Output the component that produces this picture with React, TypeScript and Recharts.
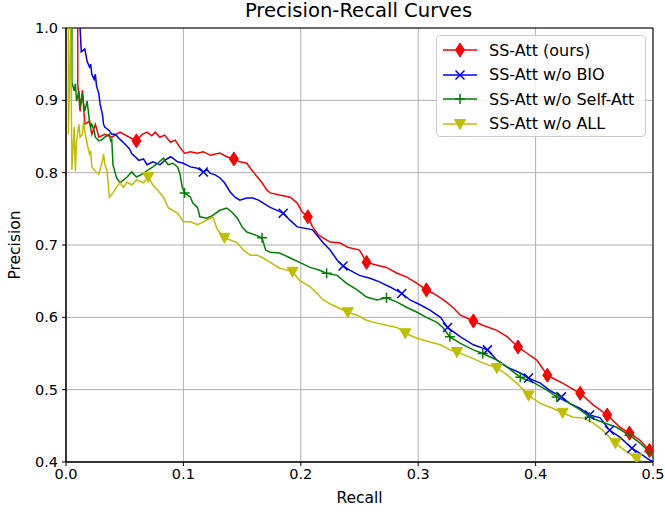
import React from 'react';
import {
  LineChart,
  Line,
  XAxis,
  YAxis,
  CartesianGrid,
  Legend,
  ReferenceArea
} from 'recharts';

const recallTicks = [0, 0.1, 0.2, 0.3, 0.4, 0.5];
const precisionTicks = [0.4, 0.5, 0.6, 0.7, 0.8, 0.9, 1.0];

// SS-Att (ours)
const oursRecall = [
  0.010, 0.010, 0.012, 0.014, 0.016, 0.020, 0.022, 0.025, 0.028, 0.033,
  0.039, 0.046, 0.054, 0.060, 0.065, 0.069, 0.073, 0.076, 0.080, 0.084,
  0.089, 0.093, 0.097, 0.101, 0.106, 0.112, 0.117, 0.123, 0.131, 0.137,
  0.143, 0.148, 0.154, 0.158, 0.163, 0.167, 0.171, 0.174, 0.182, 0.191,
  0.197, 0.201, 0.206, 0.210, 0.215, 0.219, 0.225, 0.233, 0.240, 0.250,
  0.256, 0.265, 0.273, 0.282, 0.290, 0.299, 0.307, 0.313, 0.319, 0.325,
  0.330, 0.336, 0.347, 0.355, 0.367, 0.376, 0.385, 0.393, 0.401, 0.410,
  0.418, 0.423, 0.438, 0.449, 0.461, 0.472, 0.480, 0.489, 0.497, 0.500
];
const oursPrecision = [
  1.000, 0.923, 0.885, 0.914, 0.867, 0.871, 0.853, 0.867, 0.849, 0.853,
  0.849, 0.856, 0.849, 0.844, 0.853, 0.856, 0.851, 0.856, 0.849, 0.852,
  0.842, 0.845, 0.835, 0.827, 0.829, 0.827, 0.829, 0.824, 0.827, 0.822,
  0.819, 0.815, 0.813, 0.804, 0.794, 0.786, 0.776, 0.772, 0.769, 0.766,
  0.758, 0.746, 0.739, 0.725, 0.714, 0.710, 0.704, 0.703, 0.697, 0.693,
  0.676, 0.672, 0.669, 0.661, 0.656, 0.647, 0.638, 0.633, 0.627, 0.620,
  0.613, 0.603, 0.595, 0.589, 0.582, 0.573, 0.559, 0.550, 0.541, 0.520,
  0.513, 0.509, 0.495, 0.479, 0.465, 0.448, 0.440, 0.430, 0.416, 0.414
];
const oursMarks = [13, 30, 42, 50, 56, 62, 66, 69, 72, 74, 76, 78];

// SS-Att w/o BIO
const noBioRecall = [
  0.012, 0.013, 0.016, 0.018, 0.020, 0.021, 0.022, 0.024, 0.025, 0.026,
  0.028, 0.029, 0.031, 0.032, 0.033, 0.037, 0.039, 0.042, 0.046, 0.050,
  0.054, 0.056, 0.059, 0.062, 0.066, 0.069, 0.074, 0.080, 0.084, 0.089,
  0.091, 0.095, 0.100, 0.106, 0.112, 0.117, 0.120, 0.123, 0.127, 0.131,
  0.135, 0.140, 0.144, 0.148, 0.154, 0.159, 0.164, 0.168, 0.174, 0.185,
  0.191, 0.197, 0.204, 0.210, 0.215, 0.219, 0.225, 0.231, 0.236, 0.242,
  0.250, 0.259, 0.267, 0.276, 0.286, 0.293, 0.302, 0.310, 0.319, 0.325,
  0.336, 0.347, 0.359, 0.367, 0.376, 0.387, 0.394, 0.404, 0.412, 0.422,
  0.429, 0.438, 0.446, 0.455, 0.463, 0.472, 0.482, 0.489, 0.495, 0.500
];
const noBioPrecision = [
  1.000, 0.967, 0.971, 0.954, 0.946, 0.950, 0.936, 0.929, 0.936, 0.920,
  0.909, 0.895, 0.881, 0.867, 0.863, 0.858, 0.853, 0.853, 0.846, 0.840,
  0.833, 0.826, 0.822, 0.817, 0.819, 0.811, 0.815, 0.811, 0.817, 0.822,
  0.820, 0.815, 0.813, 0.808, 0.806, 0.801, 0.804, 0.799, 0.797, 0.793,
  0.786, 0.773, 0.766, 0.762, 0.765, 0.765, 0.762, 0.758, 0.752, 0.744,
  0.734, 0.725, 0.723, 0.721, 0.711, 0.703, 0.693, 0.679, 0.671, 0.665,
  0.658, 0.654, 0.649, 0.642, 0.633, 0.624, 0.617, 0.610, 0.600, 0.586,
  0.573, 0.562, 0.555, 0.541, 0.531, 0.523, 0.516, 0.509, 0.499, 0.490,
  0.481, 0.474, 0.465, 0.461, 0.444, 0.434, 0.419, 0.412, 0.405, 0.400
];
const noBioMarks = [35, 49, 58, 64, 69, 72, 76, 79, 82, 84, 86];

// SS-Att w/o Self-Att
const noSelfRecall = [
  0.005, 0.005, 0.007, 0.008, 0.009, 0.011, 0.012, 0.014, 0.015, 0.016,
  0.018, 0.020, 0.021, 0.022, 0.024, 0.025, 0.028, 0.031, 0.033, 0.037,
  0.038, 0.039, 0.040, 0.043, 0.046, 0.052, 0.056, 0.060, 0.066, 0.070,
  0.074, 0.078, 0.083, 0.087, 0.091, 0.095, 0.097, 0.099, 0.101, 0.106,
  0.108, 0.112, 0.114, 0.120, 0.125, 0.131, 0.137, 0.141, 0.146, 0.150,
  0.154, 0.161, 0.167, 0.170, 0.174, 0.182, 0.191, 0.199, 0.208, 0.216,
  0.222, 0.231, 0.239, 0.248, 0.256, 0.265, 0.273, 0.282, 0.290, 0.299,
  0.307, 0.316, 0.321, 0.327, 0.336, 0.347, 0.355, 0.367, 0.376, 0.387,
  0.398, 0.410, 0.418, 0.427, 0.438, 0.446, 0.457, 0.469, 0.480, 0.489,
  0.497, 0.500
];
const noSelfPrecision = [
  1.000, 0.925, 0.913, 0.923, 0.899, 0.913, 0.891, 0.909, 0.895, 0.885,
  0.899, 0.871, 0.863, 0.867, 0.858, 0.849, 0.844, 0.846, 0.849, 0.853,
  0.844, 0.846, 0.811, 0.793, 0.786, 0.794, 0.801, 0.794, 0.799, 0.804,
  0.808, 0.813, 0.820, 0.811, 0.813, 0.808, 0.799, 0.780, 0.772, 0.766,
  0.758, 0.752, 0.739, 0.737, 0.741, 0.748, 0.751, 0.746, 0.737, 0.725,
  0.718, 0.714, 0.710, 0.693, 0.690, 0.689, 0.682, 0.676, 0.669, 0.665,
  0.661, 0.658, 0.647, 0.638, 0.628, 0.624, 0.627, 0.621, 0.614, 0.607,
  0.600, 0.593, 0.586, 0.573, 0.564, 0.555, 0.550, 0.541, 0.531, 0.517,
  0.510, 0.499, 0.490, 0.483, 0.472, 0.462, 0.455, 0.448, 0.437, 0.426,
  0.414, 0.407
];
const noSelfMarks = [38, 52, 60, 66, 73, 76, 79, 82, 85, 88, 90];

// SS-Att w/o ALL
const noAllRecall = [
  0.002, 0.002, 0.004, 0.005, 0.007, 0.008, 0.009, 0.011, 0.012, 0.014,
  0.015, 0.016, 0.018, 0.020, 0.021, 0.022, 0.025, 0.028, 0.031, 0.032,
  0.033, 0.035, 0.037, 0.040, 0.043, 0.046, 0.049, 0.052, 0.056, 0.060,
  0.066, 0.070, 0.074, 0.078, 0.083, 0.087, 0.091, 0.095, 0.100, 0.106,
  0.112, 0.117, 0.123, 0.125, 0.129, 0.135, 0.140, 0.146, 0.151, 0.157,
  0.163, 0.168, 0.174, 0.182, 0.193, 0.199, 0.208, 0.214, 0.219, 0.227,
  0.240, 0.248, 0.256, 0.265, 0.273, 0.282, 0.289, 0.299, 0.310, 0.319,
  0.327, 0.333, 0.344, 0.355, 0.367, 0.376, 0.384, 0.394, 0.404, 0.415,
  0.423, 0.432, 0.440, 0.449, 0.457, 0.468, 0.476, 0.486, 0.491
];
const noAllPrecision = [
  1.000, 0.853, 1.000, 0.804, 0.863, 0.802, 0.844, 0.867, 0.849, 0.853,
  0.871, 0.858, 0.840, 0.826, 0.830, 0.808, 0.802, 0.798, 0.816, 0.826,
  0.812, 0.802, 0.766, 0.772, 0.780, 0.786, 0.780, 0.787, 0.783, 0.790,
  0.786, 0.794, 0.783, 0.776, 0.766, 0.752, 0.748, 0.744, 0.732, 0.732,
  0.728, 0.732, 0.737, 0.739, 0.721, 0.710, 0.707, 0.703, 0.693, 0.686,
  0.686, 0.682, 0.676, 0.668, 0.663, 0.651, 0.642, 0.633, 0.624, 0.617,
  0.607, 0.603, 0.596, 0.592, 0.589, 0.586, 0.578, 0.571, 0.566, 0.562,
  0.555, 0.552, 0.545, 0.537, 0.530, 0.520, 0.509, 0.492, 0.481, 0.474,
  0.468, 0.462, 0.461, 0.454, 0.444, 0.426, 0.416, 0.405, 0.400
];
const noAllMarks = [31, 45, 54, 60, 66, 71, 74, 77, 80, 85, 87];

type Shape = 'diamond' | 'x' | 'plus' | 'tri';

const toPoints = (rs: number[], ps: number[]) =>
  rs.map((r, i) => ({ r, p: ps[i] }));

const series = [
  { name: 'SS-Att (ours)', color: '#ff0000', shape: 'diamond' as Shape, data: toPoints(oursRecall, oursPrecision), marks: oursMarks },
  { name: 'SS-Att w/o BIO', color: '#0000ff', shape: 'x' as Shape, data: toPoints(noBioRecall, noBioPrecision), marks: noBioMarks },
  { name: 'SS-Att w/o Self-Att', color: '#008000', shape: 'plus' as Shape, data: toPoints(noSelfRecall, noSelfPrecision), marks: noSelfMarks },
  { name: 'SS-Att w/o ALL', color: '#bfbf00', shape: 'tri' as Shape, data: toPoints(noAllRecall, noAllPrecision), marks: noAllMarks },
];

const FONT = '"DejaVu Sans", sans-serif';

const MarkerShape = ({ shape, color, cx, cy }: { shape: Shape; color: string; cx: number; cy: number }) => {
  if (shape === 'diamond') {
    return (
      <polygon
        points={`${cx},${cy - 7} ${cx + 4.5},${cy} ${cx},${cy + 7} ${cx - 4.5},${cy}`}
        fill={color}
        stroke={color}
        strokeWidth={1}
      />
    );
  }
  if (shape === 'x') {
    const d = 4.5;
    return (
      <path
        d={`M${cx - d},${cy - d}L${cx + d},${cy + d}M${cx - d},${cy + d}L${cx + d},${cy - d}`}
        stroke={color}
        strokeWidth={1.5}
        fill="none"
      />
    );
  }
  if (shape === 'plus') {
    const d = 5;
    return (
      <path
        d={`M${cx - d},${cy}L${cx + d},${cy}M${cx},${cy - d}L${cx},${cy + d}`}
        stroke={color}
        strokeWidth={1.5}
        fill="none"
      />
    );
  }
  return (
    <polygon
      points={`${cx - 5.5},${cy - 4.5} ${cx + 5.5},${cy - 4.5} ${cx},${cy + 5.5}`}
      fill={color}
      stroke={color}
      strokeWidth={1}
    />
  );
};

const makeDot = (s: typeof series[number]) => (props: any) => {
  const { cx, cy, index } = props;
  const key = `${s.name}-${index}`;
  if (!s.marks.includes(index) || cx == null || cy == null) return <g key={key} />;
  return (
    <g key={key}>
      <MarkerShape shape={s.shape} color={s.color} cx={cx} cy={cy} />
    </g>
  );
};

const renderLegend = () => (
  <div
    style={{
      width: 210,
      height: 102,
      boxSizing: 'border-box',
      border: '1px solid #cccccc',
      borderRadius: 4,
      background: 'rgba(255,255,255,0.8)',
      paddingTop: 2,
      fontFamily: FONT,
      fontSize: 16,
      color: '#000'
    }}
  >
    {series.map((s) => (
      <div key={s.name} style={{ display: 'flex', alignItems: 'center', height: 24.5 }}>
        <svg width={52} height={20} style={{ flexShrink: 0 }}>
          <line x1={6} x2={40} y1={10} y2={10} stroke={s.color} strokeWidth={1.5} />
          <MarkerShape shape={s.shape} color={s.color} cx={23} cy={10} />
        </svg>
        <span style={{ whiteSpace: 'nowrap' }}>{s.name}</span>
      </div>
    ))}
  </div>
);

const tickStyle = { fontFamily: FONT, fontSize: 14.5, fill: '#000' };

const App: React.FC = () => {
  return (
    <div style={{ position: 'absolute', left: 0, top: 0, width: 665, height: 515, background: '#fff' }}>
      <div
        style={{
          position: 'absolute',
          left: 60,
          top: -1,
          width: 597,
          textAlign: 'center',
          fontFamily: FONT,
          fontSize: 19.6,
          lineHeight: '24px',
          color: '#000',
          zIndex: 2
        }}
      >
        Precision-Recall Curves
      </div>
      <LineChart
        width={665}
        height={515}
        margin={{ top: 28, right: 12, left: 0, bottom: 23 }}
      >
        <CartesianGrid stroke="#b0b0b0" strokeWidth={1} />
        <XAxis
          type="number"
          dataKey="r"
          domain={[0, 0.5]}
          ticks={recallTicks}
          allowDataOverflow
          height={30}
          tickSize={4}
          tickMargin={3}
          tick={tickStyle}
          tickFormatter={(v: number) => v.toFixed(1)}
          stroke="#000"
          label={{ value: 'Recall', position: 'bottom', offset: 0, style: { fontFamily: FONT, fontSize: 15.5, fill: '#000' } }}
        />
        <YAxis
          type="number"
          dataKey="p"
          domain={[0.4, 1.0]}
          ticks={precisionTicks}
          allowDataOverflow
          width={66}
          tickSize={4}
          tickMargin={4}
          tick={tickStyle}
          tickFormatter={(v: number) => v.toFixed(1)}
          stroke="#000"
          label={{
            content: (props: any) => {
              const vb = props.viewBox || {};
              const cy = (vb.y ?? 28) + (vb.height ?? 434) / 2;
              return (
                <text
                  x={20}
                  y={cy}
                  transform={`rotate(-90, 20, ${cy})`}
                  textAnchor="middle"
                  style={{ fontFamily: FONT, fontSize: 15.5, fill: '#000' }}
                >
                  Precision
                </text>
              );
            }
          }}
        />
        {series.map((s) => (
          <Line
            key={s.name}
            data={s.data}
            dataKey="p"
            name={s.name}
            type="linear"
            stroke={s.color}
            strokeWidth={1.5}
            dot={makeDot(s)}
            activeDot={false}
            isAnimationActive={false}
          />
        ))}
        <ReferenceArea x1={0} x2={0.5} y1={0.4} y2={1.0} fill="none" stroke="#000" strokeWidth={1} />
        <Legend
          layout="vertical"
          align="center"
          verticalAlign="middle"
          content={renderLegend}
          wrapperStyle={{ top: 35, left: 436, width: 210, height: 102 }}
        />
      </LineChart>
    </div>
  );
};

export default App;
